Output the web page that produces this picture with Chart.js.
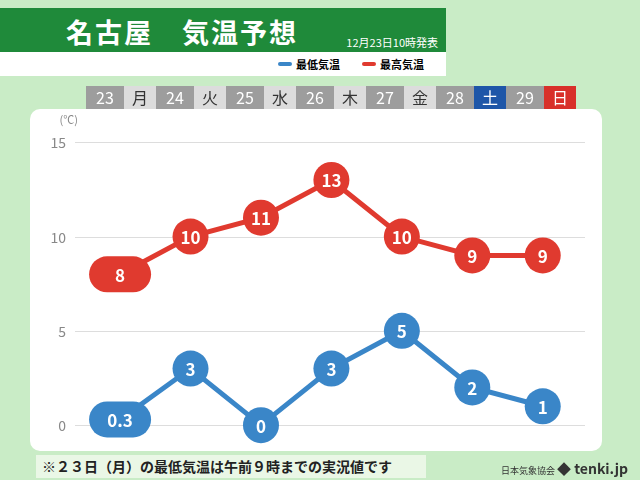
<!DOCTYPE html>
<html><head><meta charset="utf-8">
<script src="https://cdn.jsdelivr.net/npm/chart.js@4"></script>
<style>
body{margin:0;width:640px;height:480px;background:#c9ecc6;font-family:"Noto Sans CJK JP",sans-serif;position:relative;overflow:hidden}
#c{position:absolute;left:0;top:0}
.hd{position:absolute;left:0;top:8px;width:446px;height:68px;background:#fff}
.gb{position:absolute;left:0;top:0;width:446px;height:44px;background:#1f8a3a;color:#fff}
.gb .t{position:absolute;left:66px;top:4px;font-size:27px;font-weight:bold;letter-spacing:2px}
.gb .d{position:absolute;right:8px;top:26px;font-size:11px}
.lg{position:absolute;top:48px;font-size:11px;font-weight:bold;display:flex;align-items:center}
.lg i{display:inline-block;width:14px;height:4px;margin-right:4px;border-radius:2px}
.days{position:absolute;top:86px;left:86px;display:flex}
.days div{height:23px;line-height:23px;text-align:center;font-size:16px}
.n{width:38px;background:#9d9d9d;color:#fff}
.w{width:32px;background:#dcdcdc;color:#333}
.foot{position:absolute;left:36px;top:455px;width:384px;height:23px;background:#eaf7e6;font-size:14px;line-height:23px;padding-left:6px;color:#222;font-weight:bold}
.tk{position:absolute;right:12px;top:458px;font-size:9px;color:#333}
.tk b{font-size:14px;color:#333}
</style></head><body>
<canvas id="c" width="640" height="480"></canvas>
<div class="hd"><div class="gb"><span class="t">名古屋　気温予想</span><span class="d">12月23日10時発表</span></div>
<div class="lg" style="left:278px"><i style="background:#3a86c8"></i>最低気温</div>
<div class="lg" style="left:362px"><i style="background:#e03a2f"></i>最高気温</div></div>
<div class="days" id="days"></div>
<div class="foot">※２３日（月）の最低気温は午前９時までの実況値です</div>
<div class="tk">日本気象協会 <b>◆ tenki.jp</b></div>
<script>
const dayNums=["23","24","25","26","27","28","29"];
const weekdays=["月","火","水","木","金","土","日"];
const lowTemps=[0.3,3,0,3,5,2,1];
const highTemps=[8,10,11,13,10,9,9];
const yTicks=[0,5,10,15];
const dd=document.getElementById('days');
dayNums.forEach((n,i)=>{const a=document.createElement('div');a.className='n';a.textContent=n;const b=document.createElement('div');b.className='w';b.textContent=weekdays[i];
if(i==5){b.style.background='#1e56a8';b.style.color='#fff'}if(i==6){b.style.background='#d8302a';b.style.color='#fff'}dd.appendChild(a);dd.appendChild(b);});
const RED='#e03a2f',BLUE='#3a86c8';
const deco={id:'deco',
beforeDraw(ch){const c=ch.ctx,y=ch.scales.y;c.save();c.fillStyle='#fff';c.beginPath();c.roundRect(30,109,572,342,10);c.fill();
c.strokeStyle='#ddd';c.lineWidth=1;c.fillStyle='#888';c.font='14px "Noto Sans CJK JP"';c.textAlign='right';c.textBaseline='middle';
yTicks.forEach(v=>{const p=Math.round(y.getPixelForValue(v))+0.5;c.beginPath();c.moveTo(75,p);c.lineTo(585,p);c.stroke();c.fillText(String(v),66,p);});
c.font='11px "Noto Sans CJK JP"';c.fillText('(℃)',78,120);c.restore();},
afterDatasetsDraw(ch){const c=ch.ctx;c.save();c.textAlign='center';c.textBaseline='middle';
ch.data.datasets.forEach((ds,di)=>{const m=ch.getDatasetMeta(di);m.data.forEach((pt,i)=>{c.fillStyle=ds.borderColor;c.beginPath();
if(i==0){c.roundRect(pt.x-31,pt.y-18,62,36,18);}else c.arc(pt.x,pt.y,18,0,Math.PI*2);c.fill();
c.fillStyle='#fff';c.font='bold 17px "Noto Sans CJK JP"';c.fillText(String(ds.data[i].y),pt.x,pt.y+1);});});c.restore();}};
new Chart(document.getElementById('c'),{type:'line',
data:{datasets:[{data:highTemps.map((v,i)=>({x:i,y:v})),borderColor:RED,borderWidth:5,pointRadius:0},
{data:lowTemps.map((v,i)=>({x:i,y:v})),borderColor:BLUE,borderWidth:5,pointRadius:0}]},
options:{responsive:false,animation:false,layout:{padding:{left:75,right:55,top:114,bottom:36}},
plugins:{legend:{display:false},tooltip:{enabled:false}},
scales:{x:{type:'linear',min:-0.64,max:6.6,display:false},y:{min:-1,max:16.5,display:false}}},plugins:[deco]});
</script></body></html>
